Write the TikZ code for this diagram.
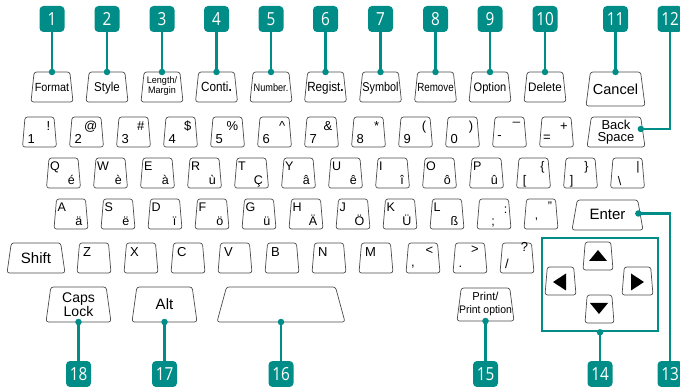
\documentclass[tikz,border=0pt]{standalone}
\usepackage{fontspec}
\usepackage{graphicx}
\setmainfont{Liberation Sans}
\newfontfamily\badgefont[FakeStretch=0.85]{Open Sans}
\usetikzlibrary{shapes.geometric}
\definecolor{brandteal}{RGB}{0,141,136}
\definecolor{keyline}{RGB}{75,75,75}
\newcommand\rowfont{\fontsize{12}{12}\selectfont}
\tikzset{
  kb/.style={trapezium, trapezium left angle=85, trapezium right angle=85,
    trapezium stretches=true, draw=keyline, line width=0.7pt, rounded corners=2.5pt,
    inner sep=1pt, outer sep=0pt, fill=white},
  badge/.style={fill=brandteal, rounded corners=4pt, minimum width=25pt, minimum height=26pt,
    inner sep=0pt, text=white, font=\badgefont\fontsize{18}{18}\selectfont},
  conn/.style={draw=brandteal, line width=2.6pt},
  dot/.style={circle, fill=brandteal, minimum size=6.5pt, inner sep=0pt},
  cl/.style={inner sep=0pt, font=\rowfont},
  bl/.style={inner sep=0pt, anchor=base},
  abox/.style={draw=brandteal, line width=2.6pt, inner sep=0pt},
}
% function key: name, x, size, xscale, text
\newcommand\FK[5]{%
  \node[kb,minimum width=42,minimum height=30] (#1) at (#2,87) {};
  \node[bl,font=\fontsize{#3}{#3}\selectfont] (#1-t) at ([yshift=-5pt]#1.center) {\scalebox{#4}[1]{#5}};}
% number key: name, x, low, high
\newcommand\NK[4]{%
  \node[kb,minimum width=34,minimum height=30] (#1) at (#2,132) {};
  \node[cl,anchor=base west] (#1-a) at ([shift={(-12,12)}]#1.center) {#3};
  \node[cl,anchor=base east] (#1-b) at ([shift={(11,-1)}]#1.center) {#4};}
% letter key with accent: name, x, cy, top, bottom
\newcommand\LK[5]{%
  \node[kb,minimum width=34,minimum height=30] (#1) at (#2,#3) {};
  \node[cl,anchor=base west] (#1-a) at ([shift={(-13.5,-2.5)}]#1.center) {#4};
  \node[cl,anchor=base east] (#1-b) at ([shift={(11.5,11.5)}]#1.center) {#5};}
% plain letter key (row 5): name, x, letter
\newcommand\ZK[3]{%
  \node[kb,minimum width=34,minimum height=30] (#1) at (#2,258) {};
  \node[cl,anchor=base west] (#1-a) at ([shift={(-11,-1)}]#1.center) {#3};}
% symbol key: name, x, cy, t1, dx1, dy1, t2, dx2, dy2
\newcommand\SK[9]{%
  \node[kb,minimum width=34,minimum height=30] (#1) at (#2,#3) {};
  \node[cl,anchor=base] (#1-a) at ([shift={(#5,#6)}]#1.center) {#4};
  \node[cl,anchor=base] (#1-b) at ([shift={(#8,#9)}]#1.center) {#7};}

\begin{document}
\begin{tikzpicture}[x=1pt,y=-1pt]
\useasboundingbox (0,0) rectangle (680,387);
\clip (0,0) rectangle (680,387);
\coordinate (ytop) at (0,19);
\coordinate (ybot) at (0,374);

% ---------- function row ----------
\FK{fmt}{52}{11.8}{0.92}{Format}
\FK{sty}{107}{12.8}{0.9}{Style}
\node[kb,minimum width=42,minimum height=30] (len) at (162,87) {};
\node[inner sep=0pt,align=center,font=\fontsize{9.5}{10}\selectfont] (len-t) at ([yshift=0.5pt]len.center)
  {\scalebox{0.95}[1]{Length/}\\\scalebox{0.95}[1]{Margin}};
\FK{con}{216.5}{13.3}{0.88}{Conti\textbf{.}}
\FK{num}{271}{10.8}{0.85}{Number.}
\FK{reg}{325.5}{13.3}{0.88}{Regist\textbf{.}}
\FK{sym}{380.5}{12.8}{0.85}{Symbol}
\FK{rem}{435.5}{11.8}{0.83}{Remove}
\FK{opt}{490}{12.3}{0.9}{Option}
\FK{del}{545}{12.3}{0.95}{Delete}
\node[kb,minimum width=59,minimum height=34] (can) at (615.5,89) {};
\node[bl,font=\fontsize{14.5}{14.5}\selectfont] (can-t) at ([yshift=-6pt]can.center) {Cancel};

% ---------- number row ----------
\renewcommand\rowfont{\fontsize{13}{13}\selectfont}
\NK{n1}{39.5}{1}{!}
\NK{n2}{86.5}{2}{@}
\NK{n3}{133.5}{3}{\#}
\NK{n4}{180.5}{4}{\$}
\NK{n5}{227.5}{5}{\%}
\NK{n6}{274.5}{6}{\textasciicircum}
\NK{n7}{321.5}{7}{\&}
\NK{n8}{368.5}{8}{*}
\NK{n9}{415.5}{9}{(}
\NK{n0}{462.5}{0}{)}
\SK{nmin}{509.5}{132}{-}{-10}{8}{\_}{7}{-11}
\SK{neq}{556.5}{132}{=}{-9.5}{10}{+}{7.5}{-1.5}
\node[kb,minimum width=58,minimum height=30] (bsp) at (616,132) {};
\node[bl,font=\fontsize{13}{13}\selectfont] (bsp-a) at ([yshift=2pt]bsp.center) {Back};
\node[bl,font=\fontsize{13}{13}\selectfont] (bsp-b) at ([yshift=-9.7pt]bsp.center) {Space};

% ---------- QWERTY row ----------
\renewcommand\rowfont{\fontsize{12.5}{12.5}\selectfont}
\LK{q}{63.5}{173}{Q}{é}
\LK{w}{110.5}{173}{W}{è}
\LK{e}{157.5}{173}{E}{à}
\LK{r}{204.5}{173}{R}{ù}
\LK{t}{251.5}{173}{T}{Ç}
\LK{y}{298.5}{173}{Y}{â}
\LK{u}{345.5}{173}{U}{ê}
\LK{i}{392.5}{173}{I}{î}
\LK{o}{439.5}{173}{O}{ô}
\LK{p}{486.5}{173}{P}{û}
\SK{lbr}{533.5}{173}{[}{-9}{11.5}{\{}{9}{-2.5}
\SK{rbr}{580.5}{173}{]}{-9}{11.5}{\}}{6}{-2.5}
\SK{bsl}{627.5}{173}{\textbackslash}{-8}{12.5}{|}{10.5}{-2.5}

% ---------- ASDF row ----------
\LK{a}{71}{214}{A}{ä}
\LK{s}{118}{214}{S}{ë}
\LK{d}{165}{214}{D}{ï}
\LK{f}{212}{214}{F}{ö}
\LK{g}{259}{214}{G}{ü}
\LK{h}{306}{214}{H}{Ä}
\LK{j}{353}{214}{J}{Ö}
\LK{k}{400}{214}{K}{Ü}
\LK{l}{447}{214}{L}{ß}
\SK{semi}{494}{214}{;}{-1}{12}{:}{11.5}{0}
\SK{quo}{541}{214}{\symbol{"0027}}{-4.5}{13}{”}{9}{-3.5}
\node[kb,minimum width=71,minimum height=30] (ent) at (607.5,215) {};
\node[bl,font=\fontsize{15}{15}\selectfont] (ent-t) at ([yshift=-5pt]ent.center) {Enter};

% ---------- ZXCV row ----------
\renewcommand\rowfont{\fontsize{13}{13}\selectfont}
\node[kb,minimum width=58,minimum height=30] (shf) at (36,258) {};
\node[bl,font=\fontsize{15}{15}\selectfont] (shf-t) at ([yshift=-6pt]shf.center) {Shift};
\ZK{z}{94}{Z}
\ZK{x}{141}{X}
\ZK{c}{188}{C}
\ZK{v}{235}{V}
\ZK{b}{282}{B}
\ZK{n}{329}{N}
\ZK{m}{376}{M}
\SK{com}{423}{258}{,}{-10}{9}{<}{6.5}{-3}
\SK{per}{470}{258}{.}{-9.5}{10}{>}{5}{-4}
\SK{sla}{517}{258}{/}{-10}{11}{?}{7.5}{-6}

% ---------- bottom row ----------
\node[kb,minimum width=65,minimum height=35] (cap) at (78.5,304.5) {};
\node[bl,font=\fontsize{14}{14}\selectfont] (cap-a) at ([yshift=1.5pt]cap.center) {Caps};
\node[bl,font=\fontsize{14}{14}\selectfont] (cap-b) at ([yshift=-11.8pt]cap.center) {Lock};
\node[kb,minimum width=65,minimum height=35] (alt) at (164.5,304.5) {};
\node[bl,font=\fontsize{15}{15}\selectfont] (alt-t) at ([yshift=-5.5pt]alt.center) {Alt};
\node[kb,minimum width=128,minimum height=35] (spc) at (281,304.5) {};
\node[kb,minimum width=57,minimum height=33] (prt) at (485.5,304.5) {};
\node[bl,font=\fontsize{11.5}{11.5}\selectfont] (prt-a) at ([yshift=3.5pt]prt.center) {\scalebox{0.97}[1]{Print/}};
\node[bl,font=\fontsize{11}{11}\selectfont] (prt-b) at ([yshift=-8.5pt]prt.center) {\scalebox{0.95}[1]{Print option}};

% ---------- arrow block ----------
\node[abox,minimum width=116,minimum height=93] (abx) at (600,284.5) {};
\node[kb,minimum width=30,minimum height=28] (kup) at (598,256) {};
\node[kb,minimum width=31,minimum height=28] (klt) at (560.5,281) {};
\node[kb,minimum width=31,minimum height=28] (krt) at (637.5,281) {};
\node[kb,minimum width=29,minimum height=28] (kdn) at (599.5,309) {};
\fill (598,250) -- (607,261) -- (589,261) -- cycle;
\fill (553,282) -- (566,273.5) -- (566,290.5) -- cycle;
\fill (644,282) -- (631,273.5) -- (631,290.5) -- cycle;
\fill (599,314) -- (608,303) -- (590,303) -- cycle;

% ---------- badges ----------
\node[badge] (b1) at (fmt |- ytop) {1};
\node[badge] (b2) at (sty |- ytop) {2};
\node[badge] (b3) at (len |- ytop) {3};
\node[badge] (b4) at (con |- ytop) {4};
\node[badge] (b5) at (num |- ytop) {5};
\node[badge] (b6) at (reg |- ytop) {6};
\node[badge] (b7) at (sym |- ytop) {7};
\node[badge] (b8) at (rem |- ytop) {8};
\node[badge] (b9) at (opt |- ytop) {9};
\node[badge] (b10) at (del |- ytop) {10};
\node[badge] (b11) at (can |- ytop) {11};
\node[badge] (b12) at (670,19) {12};
\node[badge] (b13) at (670,374) {13};
\node[badge] (b14) at (abx |- ybot) {14};
\node[badge] (b15) at (prt |- ybot) {15};
\node[badge] (b16) at (spc |- ybot) {16};
\node[badge] (b17) at (alt |- ybot) {17};
\node[badge] (b18) at (cap |- ybot) {18};

% ---------- connectors ----------
\foreach \b/\k in {b1/fmt,b2/sty,b3/len,b4/con,b5/num,b6/reg,b7/sym,b8/rem,b9/opt,b10/del,b11/can}{
  \draw[conn] (\b.south) -- (\k.north);
  \node[dot] (d-\b) at (\k.north) {};
}
\foreach \b/\k in {b14/abx,b15/prt,b16/spc,b17/alt,b18/cap}{
  \draw[conn] (\b.north) -- (\k.south);
  \node[dot] (d-\b) at (\k.south) {};
}
\draw[conn] ([xshift=-2pt,yshift=3pt]bsp.east) -| (b12.south);
\node[dot] (d-b12) at ([xshift=-2pt,yshift=3pt]bsp.east) {};
\draw[conn] ([xshift=-2pt,yshift=1.5pt]ent.east) -| (b13.north);
\node[dot] (d-b13) at ([xshift=-2pt,yshift=1.5pt]ent.east) {};
\end{tikzpicture}
\end{document}
